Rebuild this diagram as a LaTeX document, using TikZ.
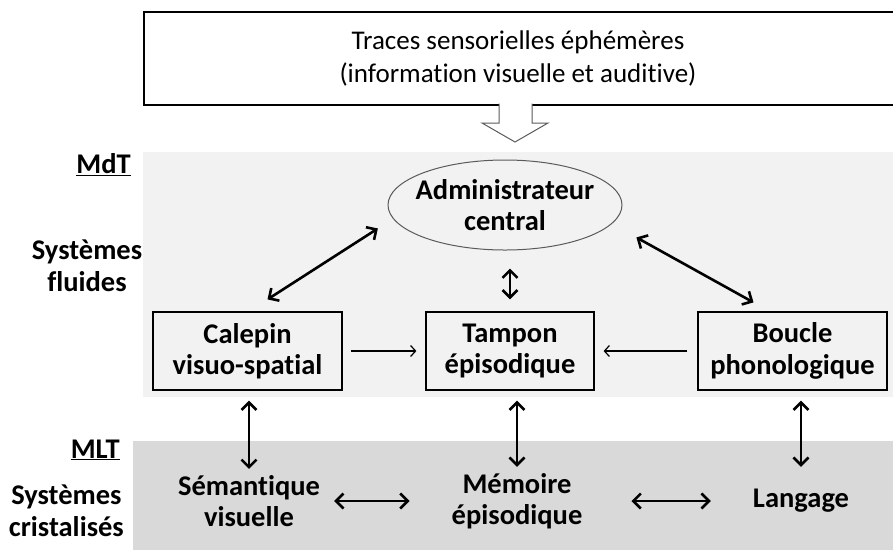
\documentclass[tikz,border=0pt]{standalone}
\usepackage{fontspec}
\setmainfont{Carlito}[Ligatures=NoCommon]
\usepackage{tikz}
\usetikzlibrary{shapes,arrows.meta,positioning,calc}
\usepackage{xcolor}
\definecolor{mdtgray}{RGB}{242,242,242}
\definecolor{mltgray}{RGB}{217,217,217}
\definecolor{edgegray}{RGB}{90,90,90}

\begin{document}
\begin{tikzpicture}[x=1pt, y=-1pt,
    lbl/.style={font=\fontsize{28.5}{31.5}\selectfont\bfseries, align=center, inner sep=2pt},
    box/.style={lbl, rectangle, draw, line width=1.2pt, fill=mdtgray, minimum width=189pt, minimum height=78pt},
    dbl/.style={{Straight Barb[length=7.5pt,width=15pt]}-{Straight Barb[length=7.5pt,width=15pt]}, line width=2.6pt},
    thinarrow/.style={-{Straight Barb[length=5pt,width=11pt]}, line width=1.2pt}]
    \useasboundingbox (0,0) rectangle (893,550);
    \fill[mdtgray] (143,152) rectangle (893,397);
    \fill[mltgray] (133,441) rectangle (893,550);
    \draw[line width=1.5pt, fill=white] (144,12) rectangle (920,105);
    \node[align=center, font=\fontsize{27}{33}\selectfont] (traces) at (518,58.5) {Traces sensorielles éphémères\\(information visuelle et auditive)};
    \filldraw[fill=white, draw=edgegray, line width=1pt] (499,103.5) -- (499,123) -- (482,123) -- (515,142) -- (548,123) -- (532,123) -- (532,103.5);
    \node[lbl, anchor=east] (mdt) at (133,165) {\underline{MdT}};
    \node[lbl] (fluides) at (87,266) {Systèmes\\fluides};
    \node[lbl, anchor=east] (mlt) at (122,450) {\underline{MLT}};
    \node[lbl, anchor=east] (cristal) at (126,511) {Systèmes\\cristalisés};
    \node[lbl, ellipse, draw=edgegray, line width=1pt, fill=mdtgray, minimum width=234pt, minimum height=90pt, inner xsep=-20pt, inner ysep=0pt] (admin) at (505,205) {Administrateur\\central};
    \node[box] (calepin) at (247.5,351) {Calepin\\visuo-spatial};
    \node[box, minimum width=168pt] (tampon) at (510,351) {Tampon\\épisodique};
    \node[box] (boucle) at (792.5,351) {Boucle\\phonologique};
    \node[lbl] (semantique) at (249,501) {Sémantique\\visuelle};
    \node[lbl] (memoire) at (517,501) {Mémoire\\épisodique};
    \node[lbl] (langage) at (801,501) {Langage};
    \draw[thinarrow, shorten <=8pt, shorten >=9pt] (calepin) -- (tampon);
    \draw[thinarrow, shorten <=10pt, shorten >=9pt] (boucle) -- (tampon);
    \draw[dbl, shorten >=18pt] ([xshift=20pt,yshift=12pt]calepin.north) -- (admin.187);
    \draw[dbl, shorten >=28pt] ([xshift=-39pt,yshift=9pt]boucle.north) -- (admin.350);
    \draw[dbl, shorten <=18pt, shorten >=12pt] (tampon.north |- admin.south) -- (tampon.north);
    \draw[dbl, shorten <=10pt, shorten >=4pt] (semantique.north |- calepin.south) -- (semantique.north);
    \draw[dbl, shorten <=10pt, shorten >=4pt] (memoire.north |- tampon.south) -- (memoire.north);
    \draw[dbl, shorten <=10pt, shorten >=4pt] (langage.north |- boucle.south) -- (langage.north |- memoire.north);
    \draw[dbl, shorten <=12pt, shorten >=40pt] (semantique) -- (memoire);
    \draw[dbl, shorten <=47pt, shorten >=40pt] (memoire) -- (langage);
\end{tikzpicture}
\end{document}
